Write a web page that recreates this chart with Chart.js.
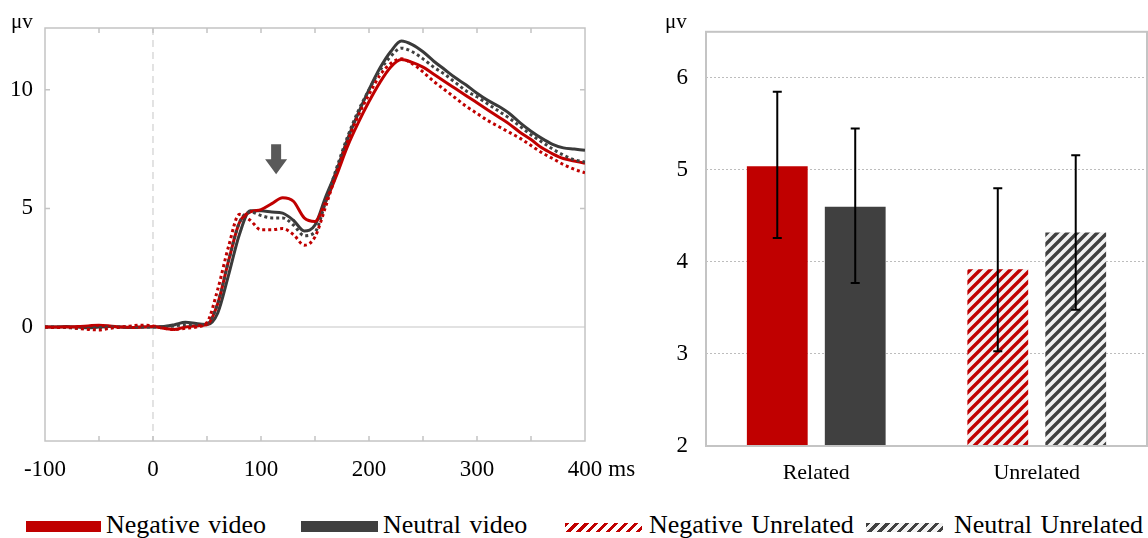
<!DOCTYPE html>
<html>
<head>
<meta charset="utf-8">
<script src="https://cdn.jsdelivr.net/npm/chart.js@4.4.0/dist/chart.umd.min.js"></script>
<style>
  body { margin: 0; background: #fff; width: 1148px; height: 538px; position: relative; overflow: hidden; font-family: "Liberation Serif", "Times New Roman", serif; }
  #waveChart { position: absolute; left: 0; top: 0; }
  #barChart { position: absolute; left: 640px; top: 0; }
  .leg { position: absolute; top: 510px; font-size: 26px; line-height: 30px; color: #000; white-space: nowrap; word-spacing: 2px; }
  .sw { position: absolute; top: 521px; height: 11px; }
</style>
</head>
<body>
<canvas id="waveChart" width="640" height="495"></canvas>
<canvas id="barChart" width="508" height="495"></canvas>

<div class="sw" style="left:26px;width:75px;background:#c00000;"></div>
<div class="leg" style="left:106px;">Negative video</div>
<div class="sw" style="left:301px;width:77px;background:#404040;"></div>
<div class="leg" style="left:383px;">Neutral video</div>
<div class="sw" style="left:565px;width:77px;top:523px;height:9px;background:repeating-linear-gradient(135deg,#c00000 0 3px,#fff 3px 7px);"></div>
<div class="leg" style="left:649px;">Negative Unrelated</div>
<div class="sw" style="left:866px;width:77px;top:523px;height:9px;background:repeating-linear-gradient(135deg,#404040 0 3px,#f2f2f2 3px 7px);"></div>
<div class="leg" style="left:954px;">Neutral Unrelated</div>

<script>
// ---- datos de las ondas (ms, µv) ----
var times = [-100, -90, -80, -70, -60, -50, -40, -30, -20, -10,
  0, 10, 20, 30, 40, 50, 60, 70, 80, 90,
  100, 110, 120, 130, 140, 150, 160, 170, 180, 190,
  200, 210, 220, 230, 240, 250, 260, 270, 280, 290,
  300, 310, 320, 330, 340, 350, 360, 370, 380, 390, 400];

var negVideo = [0, 0, 0, 0.02, 0.05, 0.08, 0.05, 0, -0.02, 0,
  0.02, -0.05, -0.1, 0, 0.05, 0.1, 1.0, 2.8, 4.4, 4.85,
  4.95, 5.2, 5.45, 5.3, 4.6, 4.45, 5.3, 6.4, 7.6, 8.6,
  9.5, 10.3, 10.95, 11.27, 11.15, 10.95, 10.65, 10.35, 10.05, 9.75,
  9.45, 9.15, 8.85, 8.55, 8.2, 7.9, 7.55, 7.3, 7.1, 7.0, 6.9];

var neuVideo = [0, 0, 0.02, 0, -0.03, 0, 0.02, 0, -0.02, 0,
  0, 0.02, 0.1, 0.2, 0.15, 0.1, 0.6, 2.2, 3.9, 4.9,
  4.9, 4.85, 4.8, 4.5, 4.05, 4.3, 5.5, 6.6, 7.9, 9.0,
  10.0, 10.9, 11.6, 12.05, 11.9, 11.6, 11.2, 10.85, 10.5, 10.2,
  9.85, 9.55, 9.3, 9.0, 8.6, 8.25, 7.95, 7.7, 7.55, 7.5, 7.45];

var negUnrel = [0, -0.02, 0, -0.05, -0.1, -0.12, -0.05, 0, 0.05, 0.08,
  0.05, -0.05, -0.1, -0.05, 0, 0.2, 1.6, 3.4, 4.75, 4.5,
  4.1, 4.1, 4.15, 3.9, 3.45, 3.8, 5.1, 6.5, 7.8, 8.9,
  9.8, 10.6, 11.1, 11.3, 11.1, 10.75, 10.35, 10.0, 9.65, 9.3,
  9.0, 8.7, 8.45, 8.2, 7.95, 7.65, 7.35, 7.1, 6.85, 6.65, 6.5];

var neuUnrel = [0, 0, -0.02, -0.05, -0.05, -0.02, 0, 0, 0, 0,
  0, 0.02, 0.05, 0.1, 0.1, 0.15, 1.0, 2.8, 4.4, 4.85,
  4.7, 4.6, 4.6, 4.3, 3.85, 4.0, 5.3, 6.7, 8.0, 9.1,
  10.0, 10.8, 11.4, 11.75, 11.6, 11.3, 10.95, 10.65, 10.3, 9.95,
  9.7, 9.4, 9.1, 8.8, 8.45, 8.1, 7.8, 7.5, 7.25, 7.05, 6.95];

var waveTicksY = [0, 5, 10];
var waveTicksX = [-100, 0, 100, 200, 300, 400];

// ---- datos de las barras ----
var barCats = ['Related', 'Unrelated'];
var barNegVideo = [5.04, null];
var barNeuVideo = [4.6, null];
var barNegUnrel = [null, 3.92];
var barNeuUnrel = [null, 4.32];
// errores (min, max) por serie
var errLow = [4.26, 3.77, 3.03, 3.48];
var errHigh = [5.85, 5.45, 4.80, 5.16];
var barTicksY = [2, 3, 4, 5, 6];

var RED = '#c00000';
var DARK = '#404040';
var TICK_FONT = { family: 'Liberation Serif', size: 23 };
var X_PAD = 15;

function pts(arr) {
  return times.map(function (t, i) { return { x: t, y: arr[i] }; });
}

// rayado diagonal para las barras "Unrelated"
function hatch(color) {
  var n = 10;
  var c = document.createElement('canvas');
  c.width = n; c.height = n;
  var g = c.getContext('2d');
  g.fillStyle = '#f2f2f2';
  g.fillRect(0, 0, n, n);
  g.strokeStyle = color;
  g.lineWidth = 3.4;
  g.beginPath();
  g.moveTo(-2, n + 2); g.lineTo(n + 2, -2);
  g.moveTo(-2, 2); g.lineTo(2, -2);
  g.moveTo(n - 2, n + 2); g.lineTo(n + 2, n - 2);
  g.stroke();
  return g.createPattern(c, 'repeat');
}

// marco, líneas de cero, marcas y flecha
var waveFrame = {
  id: 'waveFrame',
  beforeDatasetsDraw: function (chart) {
    var a = chart.chartArea, ctx = chart.ctx, x = chart.scales.x, y = chart.scales.y;
    ctx.save();
    var y0 = y.getPixelForValue(0);
    ctx.strokeStyle = '#d9d9d9'; ctx.lineWidth = 1.5;
    ctx.beginPath(); ctx.moveTo(a.left, y0); ctx.lineTo(a.right, y0); ctx.stroke();
    var x0 = x.getPixelForValue(0);
    ctx.setLineDash([7, 5]); ctx.strokeStyle = '#d0d0d0'; ctx.lineWidth = 1.2;
    ctx.beginPath(); ctx.moveTo(x0, a.top); ctx.lineTo(x0, a.bottom); ctx.stroke();
    ctx.setLineDash([]);
    ctx.strokeStyle = '#c4c4c4'; ctx.lineWidth = 1.5;
    ctx.strokeRect(a.left, a.top, a.right - a.left, a.bottom - a.top);
    ctx.beginPath();
    for (var t = -50; t < 400; t += 50) {
      var px = x.getPixelForValue(t);
      ctx.moveTo(px, a.top); ctx.lineTo(px, a.top + 5);
      ctx.moveTo(px, a.bottom); ctx.lineTo(px, a.bottom - 5);
    }
    [5, 10].forEach(function (v) {
      var py = y.getPixelForValue(v);
      ctx.moveTo(a.left, py); ctx.lineTo(a.left + 5, py);
      ctx.moveTo(a.right, py); ctx.lineTo(a.right - 5, py);
    });
    ctx.stroke();
    ctx.restore();
  },
  afterDraw: function (chart) {
    var a = chart.chartArea, ctx = chart.ctx, x = chart.scales.x, y = chart.scales.y;
    ctx.save();
    // flecha
    var cx = x.getPixelForValue(114), top = y.getPixelForValue(7.7);
    ctx.fillStyle = '#595959';
    ctx.beginPath();
    ctx.moveTo(cx - 5, top); ctx.lineTo(cx + 5, top);
    ctx.lineTo(cx + 5, top + 15); ctx.lineTo(cx + 11, top + 15);
    ctx.lineTo(cx, top + 30); ctx.lineTo(cx - 11, top + 15);
    ctx.lineTo(cx - 5, top + 15);
    ctx.closePath(); ctx.fill();
    ctx.fillStyle = '#000';
    ctx.font = '21px "Liberation Serif"';
    ctx.fillText('μv', 11, 28);
    // unidad del eje x, detrás del último número
    ctx.font = TICK_FONT.size + 'px "Liberation Serif"';
    ctx.textBaseline = 'middle';
    ctx.textAlign = 'left';
    var lx = x.getPixelForValue(400) + ctx.measureText('400').width / 2 + 6;
    var ly = a.bottom + X_PAD + TICK_FONT.size * 1.2 / 2;
    ctx.fillText('ms', lx, ly);
    ctx.restore();
  }
};

new Chart(document.getElementById('waveChart'), {
  type: 'line',
  data: {
    datasets: [
      { label: 'Negative Unrelated', data: pts(negUnrel), borderColor: RED, borderDash: [3, 3], borderWidth: 3 },
      { label: 'Neutral Unrelated', data: pts(neuUnrel), borderColor: DARK, borderDash: [3, 3], borderWidth: 3 },
      { label: 'Negative video', data: pts(negVideo), borderColor: RED, borderWidth: 3 },
      { label: 'Neutral video', data: pts(neuVideo), borderColor: '#3a3a3a', borderWidth: 3 }
    ]
  },
  options: {
    responsive: false,
    animation: false,
    elements: { point: { radius: 0 }, line: { cubicInterpolationMode: 'monotone', borderCapStyle: 'butt' } },
    layout: { padding: { top: 28, right: 55, left: 0, bottom: 0 } },
    plugins: { legend: { display: false }, tooltip: { enabled: false } },
    scales: {
      x: {
        type: 'linear', min: -100, max: 400,
        afterBuildTicks: function (s) { s.ticks = waveTicksX.map(function (v) { return { value: v }; }); },
        afterFit: function (s) { s.height = 54; },
        grid: { display: false, drawTicks: false },
        border: { display: false },
        ticks: { padding: X_PAD, color: '#000', maxRotation: 0, font: TICK_FONT }
      },
      y: {
        min: -4.8, max: 12.6,
        afterBuildTicks: function (s) { s.ticks = waveTicksY.map(function (v) { return { value: v }; }); },
        afterFit: function (s) { s.width = 45; },
        grid: { display: false, drawTicks: false },
        border: { display: false },
        ticks: { padding: 12, color: '#000', font: TICK_FONT }
      }
    }
  },
  plugins: [waveFrame]
});

// barras de error y marco
var barFrame = {
  id: 'barFrame',
  afterDatasetsDraw: function (chart) {
    var a = chart.chartArea, ctx = chart.ctx, y = chart.scales.y;
    ctx.save();
    ctx.strokeStyle = '#c4c4c4'; ctx.lineWidth = 2;
    ctx.strokeRect(a.left, a.top, a.right - a.left, a.bottom - a.top);
    ctx.strokeStyle = '#000'; ctx.lineWidth = 2;
    chart.data.datasets.forEach(function (ds, i) {
      var meta = chart.getDatasetMeta(i);
      meta.data.forEach(function (bar, j) {
        if (ds.data[j] == null) return;
        var hi = y.getPixelForValue(errHigh[i]), lo = y.getPixelForValue(errLow[i]);
        ctx.beginPath();
        ctx.moveTo(bar.x, hi); ctx.lineTo(bar.x, lo);
        ctx.moveTo(bar.x - 4.5, hi); ctx.lineTo(bar.x + 4.5, hi);
        ctx.moveTo(bar.x - 4.5, lo); ctx.lineTo(bar.x + 4.5, lo);
        ctx.stroke();
      });
    });
    ctx.fillStyle = '#000';
    ctx.font = '21px "Liberation Serif"';
    ctx.fillText('μv', 25, 28);
    ctx.restore();
  }
};

new Chart(document.getElementById('barChart'), {
  type: 'bar',
  data: {
    labels: barCats,
    datasets: [
      { label: 'Negative video', data: barNegVideo, backgroundColor: RED },
      { label: 'Neutral video', data: barNeuVideo, backgroundColor: DARK },
      { label: 'Negative Unrelated', data: barNegUnrel, backgroundColor: hatch(RED) },
      { label: 'Neutral Unrelated', data: barNeuUnrel, backgroundColor: hatch(DARK) }
    ]
  },
  options: {
    responsive: false,
    animation: false,
    skipNull: true,
    categoryPercentage: 0.707,
    barPercentage: 0.78,
    layout: { padding: { top: 28, right: 1, left: 0, bottom: 0 } },
    plugins: { legend: { display: false }, tooltip: { enabled: false } },
    scales: {
      x: {
        afterFit: function (s) { s.height = 49; },
        grid: { display: false, drawTicks: false },
        border: { display: false },
        ticks: { padding: 14, color: '#000', font: { family: 'Liberation Serif', size: 22 } }
      },
      y: {
        min: 2, max: 6.5,
        afterBuildTicks: function (s) { s.ticks = barTicksY.map(function (v) { return { value: v }; }); },
        afterFit: function (s) { s.width = 66; },
        grid: {
          drawTicks: false, lineWidth: 1,
          color: function (c) { return c.tick && c.tick.value === 2 ? 'rgba(0,0,0,0)' : '#bdbdbd'; }
        },
        border: { display: false, dash: [2, 2] },
        ticks: { padding: 18, color: '#000', font: TICK_FONT }
      }
    }
  },
  plugins: [barFrame]
});
</script>
</body>
</html>
